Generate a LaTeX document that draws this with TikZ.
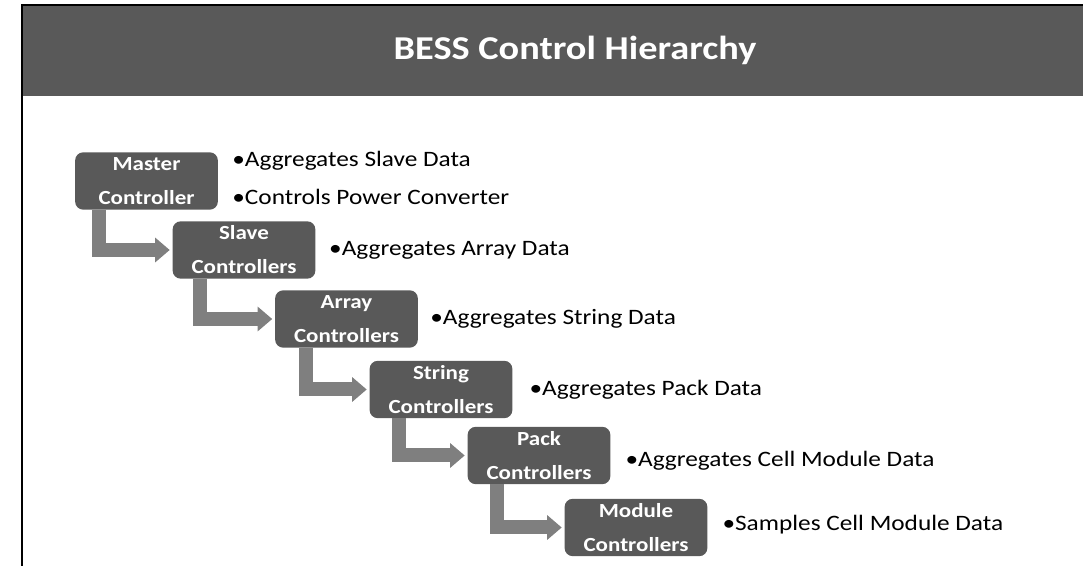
\documentclass[tikz,border=0pt]{standalone}
\usepackage{fontspec}
\setmainfont{Carlito}[FakeStretch=1.15]
\usetikzlibrary{positioning,arrows.meta}
\definecolor{hdrgray}{HTML}{595959}
\definecolor{arrgray}{HTML}{7F7F7F}
\tikzset{
  ctrl/.style={fill=hdrgray, rounded corners=6pt, minimum width=107pt, minimum height=43pt, inner sep=0pt,
    text=white, align=center, font=\bfseries\fontsize{15}{25.5}\selectfont},
  note/.style={anchor=west, inner sep=0pt, font=\fontsize{16.5}{20}\selectfont},
  flow/.style={arrgray, line width=10.5pt, line join=miter, shorten >=2pt,
    -{Triangle[width=18pt,length=11pt]}},
}
\begin{document}
\begin{tikzpicture}[x=0.75pt,y=-0.75pt]
\useasboundingbox (0,0) rectangle (1083,566);
%header
\fill[hdrgray] (23,6) rectangle (1083,96);
\draw[line width=2pt] (22,566) -- (22,5) -- (1083,5);
\node[text=white, font=\bfseries\fontsize{25}{29}\selectfont] (title) at (575,50) {BESS Control Hierarchy};
%controllers
\node[ctrl] (master) at (146.5,181) {Master\\Controller};
\node[ctrl] (slave) at (244,250) {Slave\\Controllers};
\node[ctrl] (array) at (346.5,319) {Array\\Controllers};
\node[ctrl] (string) at (441,389.5) {String\\Controllers};
\node[ctrl] (pack) at (539,455.5) {Pack\\Controllers};
\node[ctrl] (module) at (636,527.5) {Module\\Controllers};
%arrows
\draw[flow] ([xshift=18pt]master.south west) |- (slave.west);
\draw[flow] ([xshift=21pt]slave.south west) |- (array.west);
\draw[flow] ([xshift=23pt]array.south west) |- (string.west);
\draw[flow] ([xshift=22pt]string.south west) |- (pack.west);
\draw[flow] ([xshift=22pt]pack.south west) |- (module.west);
%notes
\node[note] (aggslave) at ([xshift=10.5pt,yshift=15.5pt]master.east) {•Aggregates Slave Data};
\node[note] (ctrlpower) at ([xshift=10.5pt,yshift=-12pt]master.east) {•Controls Power Converter};
\node[note, right=10pt of slave] (aggarray) {•Aggregates Array Data};
\node[note, right=9pt of array] (aggstring) {•Aggregates String Data};
\node[note, right=12.5pt of string] (aggpack) {•Aggregates Pack Data};
\node[note, right=11pt of pack, yshift=-4pt] (aggcell) {•Aggregates Cell Module Data};
\node[note, right=11pt of module, yshift=2.5pt] (samplecell) {•Samples Cell Module Data};
\end{tikzpicture}
\end{document}
